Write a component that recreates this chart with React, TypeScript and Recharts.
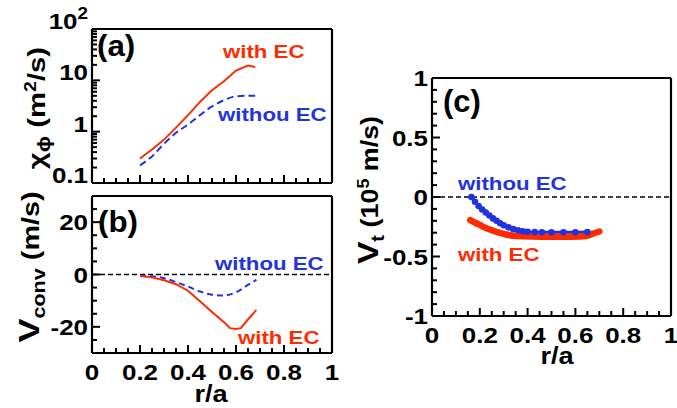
import React from 'react';
import { LineChart, Line, XAxis, YAxis, ReferenceLine } from 'recharts';

const RED = '#ff2a00';
const BLUE = '#2233dd';
const FONT = '"Liberation Sans", Arial, Helvetica, sans-serif';

// (a) chi_phi vs r/a
const rA = [0.2, 0.25, 0.3, 0.35, 0.4, 0.45, 0.5, 0.55, 0.6, 0.65, 0.68];
const chiWithEC = [0.3, 0.45, 0.7, 1.2, 2.1, 3.8, 6.4, 9.6, 15.5, 19.4, 18.2];
const chiWithoutEC = [0.22, 0.33, 0.58, 0.95, 1.38, 2.1, 3.1, 4.1, 4.9, 5.0, 5.0];

// (b) V_conv vs r/a
const rBWith = [0.2, 0.25, 0.3, 0.35, 0.4, 0.45, 0.5, 0.55, 0.575, 0.6, 0.62, 0.65, 0.685];
const vconvWithEC = [-0.6, -1.1, -2.2, -3.7, -6.2, -10.2, -14.3, -18.2, -20.5, -20.8, -20.5, -17.2, -13.5];
const rBWithout = [0.2, 0.25, 0.3, 0.35, 0.4, 0.45, 0.5, 0.55, 0.6, 0.65, 0.685];
const vconvWithoutEC = [-0.4, -0.7, -1.4, -2.9, -4.6, -6.5, -7.7, -8.0, -6.8, -4.0, -2.0];

// (c) V_t vs r/a
const rCWithout = [0.165, 0.18, 0.195, 0.21, 0.225, 0.24, 0.255, 0.27, 0.285, 0.3, 0.32, 0.34, 0.36, 0.38, 0.4, 0.43, 0.46, 0.5, 0.55, 0.6, 0.65];
const vtWithoutEC = [0.0, -0.04, -0.075, -0.105, -0.13, -0.155, -0.18, -0.2, -0.22, -0.238, -0.255, -0.27, -0.28, -0.288, -0.292, -0.295, -0.297, -0.297, -0.297, -0.297, -0.295];
const rCWith = [0.16, 0.18, 0.2, 0.22, 0.25, 0.28, 0.31, 0.34, 0.38, 0.42, 0.46, 0.5, 0.54, 0.58, 0.62, 0.645, 0.67, 0.7];
const vtWithEC = [-0.195, -0.215, -0.235, -0.255, -0.28, -0.3, -0.315, -0.325, -0.33, -0.332, -0.333, -0.333, -0.333, -0.333, -0.332, -0.328, -0.31, -0.29];

// ticks
const xMajor = [0, 0.2, 0.4, 0.6, 0.8, 1];
const xTicks = Array.from({ length: 21 }, (_, i) => i * 0.05);
const logMajor = [0.1, 1, 10, 100];
const logTicks = [0.1, 1, 10].flatMap((d) => [1, 2, 3, 4, 5, 6, 7, 8, 9].map((k) => k * d)).concat([100]);
const vconvMajor = [-20, 0, 20];
const vconvTicks = Array.from({ length: 13 }, (_, i) => -30 + i * 5);
const vtMajor = [-1, -0.5, 0, 0.5, 1];
const vtTicks = Array.from({ length: 21 }, (_, i) => -1 + i * 0.1);

const pts = (xs: number[], ys: number[]) => xs.map((r, i) => ({ r, v: ys[i] }));

const W = 677;
const H = 408;

type Side = 'left' | 'right' | 'top' | 'bottom';

const isMajor = (majors: number[], v: number) => majors.some((m) => Math.abs(m - v) < 1e-6);

const textStyle = { fontFamily: FONT, fontWeight: 700, fill: '#000', stroke: 'none' } as const;

const makeTick =
  (side: Side, majors: number[], label?: (v: number) => React.ReactNode, dy = 8) =>
  (props: any) => {
    const { x, y, payload } = props;
    const v = payload.value as number;
    const major = isMajor(majors, v);
    const len = major ? 8 : 5;
    let ln;
    if (side === 'left') ln = <line x1={x} y1={y} x2={x + len} y2={y} />;
    else if (side === 'right') ln = <line x1={x} y1={y} x2={x - len} y2={y} />;
    else if (side === 'bottom') ln = <line x1={x} y1={y} x2={x} y2={y - len} />;
    else ln = <line x1={x} y1={y} x2={x} y2={y + len} />;
    let txt = null;
    if (label && major) {
      if (side === 'left')
        txt = (
          <text transform={`translate(${x - 4},${y + dy}) scale(1.18,1)`} textAnchor="end" fontSize={22} style={textStyle}>
            {label(v)}
          </text>
        );
      if (side === 'bottom')
        txt = (
          <text transform={`translate(${x},${y + 27}) scale(1.18,1)`} textAnchor="middle" fontSize={22} style={textStyle}>
            {label(v)}
          </text>
        );
    }
    return (
      <g>
        <g stroke="#000" strokeWidth={2}>{ln}</g>
        {txt}
      </g>
    );
  };

const fmt = (v: number) => String(Math.round(v * 10) / 10);
const logLabel = (v: number) =>
  v === 100 ? (
    <>
      10<tspan fontSize={16} dy={-10}>2</tspan>
    </>
  ) : (
    fmt(v)
  );

const axisLine = { stroke: '#000', strokeWidth: 2.2 };
const common = { tickLine: false, tickSize: 0, tickMargin: 0, interval: 0 as const, axisLine };

// each chart fills the whole page; the margins place its plot box
const box = (left: number, top: number, right: number, bottom: number) => ({
  top: top - 1,
  left: left - 1,
  right: W - right - 1,
  bottom: H - bottom - 1,
});

const Legend = ({ x, y, fill, children }: { x: number; y: number; fill: string; children: React.ReactNode }) => (
  <text transform={`translate(${x},${y}) scale(1.17,1)`} fontSize={19} fontFamily={FONT} fontWeight={700} fill={fill}>
    {children}
  </text>
);

const Overlay = () => (
  <svg width={W} height={H} style={{ position: 'absolute', left: 0, top: 0, pointerEvents: 'none' }}>
    <g fontFamily={FONT} fontWeight={700} fill="#000">
      <text transform="translate(97,56) scale(1.08,1)" fontSize={29}>(a)</text>
      <text transform="translate(98,232) scale(1.08,1)" fontSize={29}>(b)</text>
      <text transform="translate(443,112)" fontSize={31}>(c)</text>

      <text transform="translate(211,402) scale(1.18,1)" fontSize={23} textAnchor="middle">r/a</text>
      <text transform="translate(557,364) scale(1.18,1)" fontSize={23} textAnchor="middle">r/a</text>

      <text transform="translate(37,108) rotate(-90) scale(1.22,1)" fontSize={24} textAnchor="middle" y={8}>
        χ<tspan fontSize={18} dy={5}>ϕ</tspan>
        <tspan dy={-5}> (m</tspan>
        <tspan fontSize={16} dy={-9}>2</tspan>
        <tspan dy={9}>/s)</tspan>
      </text>
      <text transform="translate(29,267) rotate(-90) scale(1.2,1)" fontSize={24} textAnchor="middle" y={10}>
        <tspan fontSize={30}>V</tspan>
        <tspan fontSize={18} dy={6}>conv</tspan>
        <tspan dy={-6}> (m/s)</tspan>
      </text>
      <text transform="translate(368,190) rotate(-90) scale(1.12,1)" fontSize={24} textAnchor="middle" y={10}>
        <tspan fontSize={30}>V</tspan>
        <tspan fontSize={18} dy={6}>t</tspan>
        <tspan dy={-6}> (10</tspan>
        <tspan fontSize={16} dy={-9}>5</tspan>
        <tspan dy={9}> m/s)</tspan>
      </text>
    </g>
    <Legend x={223} y={58} fill={RED}>with EC</Legend>
    <Legend x={218} y={121} fill={BLUE}>withou EC</Legend>
    <Legend x={215} y={270} fill={BLUE}>withou EC</Legend>
    <Legend x={238} y={344} fill={RED}>with EC</Legend>
    <Legend x={458} y={190} fill={BLUE}>withou EC</Legend>
    <Legend x={458} y={261} fill={RED}>with EC</Legend>
  </svg>
);

const pos = { position: 'absolute' as const, left: 0, top: 0 };

const ChartA = () => (
  <div style={pos}>
    <LineChart width={W} height={H} margin={box(92, 29, 332, 183)}>
      <XAxis xAxisId="b" dataKey="r" type="number" domain={[0, 1]} ticks={xTicks} orientation="bottom" height={1} {...common} tick={makeTick('bottom', xMajor)} />
      <XAxis xAxisId="t" dataKey="r" type="number" domain={[0, 1]} ticks={xTicks} orientation="top" height={1} {...common} tick={makeTick('top', xMajor)} />
      <YAxis yAxisId="l" type="number" scale="log" domain={[0.1, 100]} ticks={logTicks} orientation="left" width={1} {...common} tick={makeTick('left', logMajor, logLabel, 0)} />
      <YAxis yAxisId="r" type="number" scale="log" domain={[0.1, 100]} ticks={logTicks} orientation="right" width={1} {...common} tick={makeTick('right', logMajor)} />
      <Line xAxisId="b" yAxisId="l" data={pts(rA, chiWithoutEC)} dataKey="v" type="monotone" stroke={BLUE} strokeWidth={2} strokeDasharray="7 4" dot={false} isAnimationActive={false} />
      <Line xAxisId="b" yAxisId="l" data={pts(rA, chiWithEC)} dataKey="v" type="linear" stroke={RED} strokeWidth={2} dot={false} isAnimationActive={false} />
    </LineChart>
  </div>
);

const ChartB = () => (
  <div style={pos}>
    <LineChart width={W} height={H} margin={box(92, 196, 332, 353)}>
      <XAxis xAxisId="b" dataKey="r" type="number" domain={[0, 1]} ticks={xTicks} orientation="bottom" height={1} {...common} tick={makeTick('bottom', xMajor, fmt)} />
      <XAxis xAxisId="t" dataKey="r" type="number" domain={[0, 1]} ticks={xTicks} orientation="top" height={1} {...common} tick={makeTick('top', xMajor)} />
      <YAxis yAxisId="l" type="number" domain={[-30, 30]} ticks={vconvTicks} orientation="left" width={1} {...common} tick={makeTick('left', vconvMajor, fmt)} />
      <YAxis yAxisId="r" type="number" domain={[-30, 30]} ticks={vconvTicks} orientation="right" width={1} {...common} tick={makeTick('right', vconvMajor)} />
      <ReferenceLine xAxisId="b" yAxisId="l" y={0} stroke="#000" strokeWidth={1.5} strokeDasharray="5 3" />
      <Line xAxisId="b" yAxisId="l" data={pts(rBWithout, vconvWithoutEC)} dataKey="v" type="monotone" stroke={BLUE} strokeWidth={2} strokeDasharray="6 4" dot={false} isAnimationActive={false} />
      <Line xAxisId="b" yAxisId="l" data={pts(rBWith, vconvWithEC)} dataKey="v" type="linear" stroke={RED} strokeWidth={2} dot={false} isAnimationActive={false} />
    </LineChart>
  </div>
);

const ChartC = () => (
  <div style={pos}>
    <LineChart width={W} height={H} margin={box(432, 78, 671, 316)}>
      <XAxis xAxisId="b" dataKey="r" type="number" domain={[0, 1]} ticks={xTicks} orientation="bottom" height={1} {...common} tick={makeTick('bottom', xMajor, fmt)} />
      <XAxis xAxisId="t" dataKey="r" type="number" domain={[0, 1]} ticks={xTicks} orientation="top" height={1} {...common} tick={makeTick('top', xMajor)} />
      <YAxis yAxisId="l" type="number" domain={[-1, 1]} ticks={vtTicks} orientation="left" width={1} {...common} tick={makeTick('left', vtMajor, fmt)} />
      <YAxis yAxisId="r" type="number" domain={[-1, 1]} ticks={vtTicks} orientation="right" width={1} {...common} tick={makeTick('right', vtMajor)} />
      <ReferenceLine xAxisId="b" yAxisId="l" y={0} stroke="#000" strokeWidth={1.5} strokeDasharray="5 3" />
      <Line xAxisId="b" yAxisId="l" data={pts(rCWithout, vtWithoutEC)} dataKey="v" type="monotone" stroke={BLUE} strokeWidth={3} dot={{ r: 3.3, fill: BLUE, stroke: BLUE, strokeWidth: 0 }} isAnimationActive={false} />
      <Line xAxisId="b" yAxisId="l" data={pts(rCWith, vtWithEC)} dataKey="v" type="monotone" stroke={RED} strokeWidth={6.5} strokeLinecap="round" dot={false} isAnimationActive={false} />
    </LineChart>
  </div>
);

export default function App() {
  return (
    <div style={{ position: 'absolute', left: 0, top: 0, width: W, height: H, background: '#fff' }}>
      <ChartA />
      <ChartB />
      <ChartC />
      <Overlay />
    </div>
  );
}
